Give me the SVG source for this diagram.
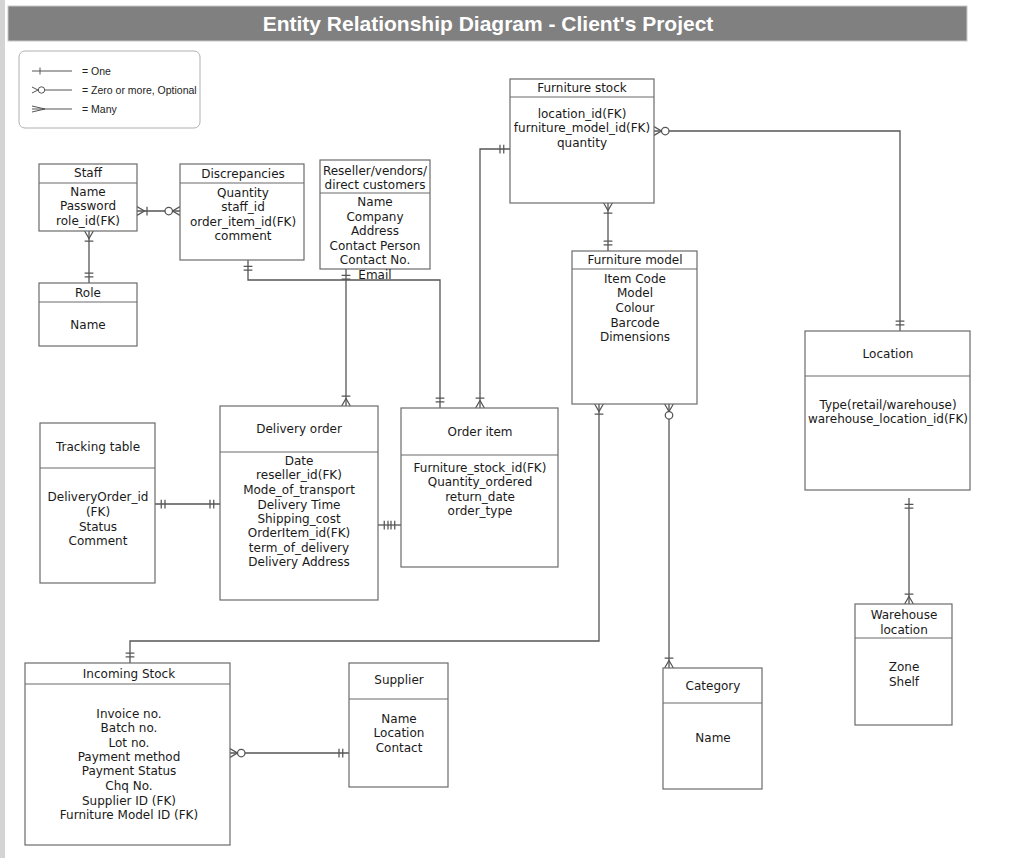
<svg xmlns="http://www.w3.org/2000/svg" width="1024" height="858" viewBox="0 0 1024 858">
<style>
.box{fill:#fff;stroke:#6b6b6b;stroke-width:1.2}
.sep{stroke:#6b6b6b;stroke-width:1.2}
.t{font-family:"DejaVu Sans",Verdana,sans-serif;font-size:12px;fill:#1a1a1a;text-anchor:middle}
.c{fill:none;stroke:#555;stroke-width:1.3}
.m{fill:none;stroke:#555;stroke-width:1}
.lg{font-family:"Liberation Sans",Arial,sans-serif;font-size:10.5px;fill:#222}
</style>
<defs>
<marker id="one" markerUnits="userSpaceOnUse" markerWidth="20" markerHeight="20" viewBox="-14 -7 16 14" refX="0" refY="0" orient="auto-start-reverse" overflow="visible">
<path class="m" d="M-5,-3.5V3.5M-8,-3.5V3.5"/>
</marker>
<marker id="many" markerUnits="userSpaceOnUse" markerWidth="20" markerHeight="20" viewBox="-14 -7 16 14" refX="0" refY="0" orient="auto-start-reverse" overflow="visible">
<path class="m" d="M0,-3.5L-6,0L0,3.5M-8,-3.5V3.5"/>
</marker>
<marker id="zmany" markerUnits="userSpaceOnUse" markerWidth="20" markerHeight="20" viewBox="-14 -7 16 14" refX="0" refY="0" orient="auto-start-reverse" overflow="visible">
<path class="m" d="M0,-3.5L-6,0L0,3.5"/>
<circle cx="-9" cy="0" r="3" fill="#fff" stroke="#555" stroke-width="1"/>
</marker>
</defs>
<rect x="0" y="0" width="1024" height="858" fill="#fff"/>
<rect x="0" y="0" width="5" height="858" fill="#d4d4d4"/>
<g id="title">
<rect x="8" y="6" width="959" height="35" fill="#808080" stroke="#c8c8c8" stroke-width="1"/>
<text x="488" y="31" font-family="Liberation Sans,Arial,sans-serif" font-size="21" font-weight="bold" fill="#fff" text-anchor="middle">Entity Relationship Diagram - Client's Project</text>
</g>
<g id="legend">
<rect x="19" y="51" width="181" height="77" rx="6" fill="#fff" stroke="#b0b0b0" stroke-width="1"/>
<path class="m" d="M32,71H72M40,67.5V74.5"/>
<path class="m" d="M32,87L38,90L32,93M45,90H72"/>
<circle cx="41.5" cy="90" r="3.2" fill="#fff" stroke="#555" stroke-width="1"/>
<path class="m" d="M32,106L45,109L32,112M32,109H72"/>
<text class="lg" x="82" y="75">= One</text>
<text class="lg" x="82" y="94">= Zero or more, Optional</text>
<text class="lg" x="82" y="113">= Many</text>
</g>
<g id="connectors">
<path class="c" d="M137,211H180" marker-start="url(#many)" marker-end="url(#zmany)"/>
<path class="c" d="M89,231V283" marker-start="url(#many)" marker-end="url(#one)"/>
<path class="c" d="M248,260V280H440V408" marker-start="url(#one)" marker-end="url(#one)"/>
<path class="c" d="M346,269V406" marker-start="url(#one)" marker-end="url(#many)"/>
<path class="c" d="M510,149H480V408" marker-start="url(#one)" marker-end="url(#many)"/>
<path class="c" d="M654,131H900V331" marker-start="url(#zmany)" marker-end="url(#one)"/>
<path class="c" d="M608,203V251" marker-start="url(#many)" marker-end="url(#one)"/>
<path class="c" d="M599,404V641H130V663" marker-start="url(#many)" marker-end="url(#one)"/>
<path class="c" d="M669,404V668" marker-start="url(#zmany)" marker-end="url(#many)"/>
<path class="c" d="M909,498V604" marker-start="url(#one)" marker-end="url(#many)"/>
<path class="c" d="M155,504H220" marker-start="url(#one)" marker-end="url(#one)"/>
<path class="c" d="M378,525H401" marker-start="url(#one)" marker-end="url(#one)"/>
<path class="c" d="M230,753H349" marker-start="url(#zmany)" marker-end="url(#one)"/>
</g>
<g id="staff">
<rect class="box" x="39" y="164" width="98" height="67"/>
<line class="sep" x1="39" y1="183" x2="137" y2="183"/>
<text class="t" x="88" y="177">Staff</text>
<text class="t" x="88" y="196">Name</text>
<text class="t" x="88" y="210">Password</text>
<text class="t" x="88" y="225">role_id(FK)</text>
</g>
<g id="discrepancies">
<rect class="box" x="180" y="164" width="124" height="96"/>
<line class="sep" x1="180" y1="183" x2="304" y2="183"/>
<text class="t" x="243" y="178">Discrepancies</text>
<text class="t" x="243" y="197">Quantity</text>
<text class="t" x="243" y="211">staff_id</text>
<text class="t" x="243" y="226">order_item_id(FK)</text>
<text class="t" x="243" y="240">comment</text>
</g>
<g id="reseller">
<rect class="box" x="320" y="160" width="110" height="109"/>
<line class="sep" x1="320" y1="193" x2="430" y2="193"/>
<text class="t" x="375" y="175">Reseller/vendors/</text>
<text class="t" x="375" y="189">direct customers</text>
<text class="t" x="375" y="206">Name</text>
<text class="t" x="375" y="221">Company</text>
<text class="t" x="375" y="235">Address</text>
<text class="t" x="375" y="250">Contact Person</text>
<text class="t" x="375" y="264">Contact No.</text>
<text class="t" x="375" y="279">Email</text>
</g>
<g id="role">
<rect class="box" x="39" y="283" width="98" height="63"/>
<line class="sep" x1="39" y1="302" x2="137" y2="302"/>
<text class="t" x="88" y="297">Role</text>
<text class="t" x="88" y="329">Name</text>
</g>
<g id="furniture-stock">
<rect class="box" x="510" y="79" width="144" height="124"/>
<line class="sep" x1="510" y1="97" x2="654" y2="97"/>
<text class="t" x="582" y="92">Furniture stock</text>
<text class="t" x="582" y="118">location_id(FK)</text>
<text class="t" x="582" y="132">furniture_model_id(FK)</text>
<text class="t" x="582" y="147">quantity</text>
</g>
<g id="furniture-model">
<rect class="box" x="572" y="251" width="125" height="153"/>
<line class="sep" x1="572" y1="269" x2="697" y2="269"/>
<text class="t" x="635" y="264">Furniture model</text>
<text class="t" x="635" y="283">Item Code</text>
<text class="t" x="635" y="297">Model</text>
<text class="t" x="635" y="312">Colour</text>
<text class="t" x="635" y="327">Barcode</text>
<text class="t" x="635" y="341">Dimensions</text>
</g>
<g id="location">
<rect class="box" x="805" y="331" width="165" height="159"/>
<line class="sep" x1="805" y1="376" x2="970" y2="376"/>
<text class="t" x="888" y="358">Location</text>
<text class="t" x="888" y="409">Type(retail/warehouse)</text>
<text class="t" x="888" y="423">warehouse_location_id(FK)</text>
</g>
<g id="tracking-table">
<rect class="box" x="40" y="423" width="115" height="160"/>
<line class="sep" x1="40" y1="468" x2="155" y2="468"/>
<text class="t" x="98" y="451">Tracking table</text>
<text class="t" x="98" y="501">DeliveryOrder_id</text>
<text class="t" x="98" y="516">(FK)</text>
<text class="t" x="98" y="531">Status</text>
<text class="t" x="98" y="545">Comment</text>
</g>
<g id="delivery-order">
<rect class="box" x="220" y="406" width="158" height="194"/>
<line class="sep" x1="220" y1="452" x2="378" y2="452"/>
<text class="t" x="299" y="433">Delivery order</text>
<text class="t" x="299" y="465">Date</text>
<text class="t" x="299" y="479">reseller_id(FK)</text>
<text class="t" x="299" y="494">Mode_of_transport</text>
<text class="t" x="299" y="509">Delivery Time</text>
<text class="t" x="299" y="523">Shipping_cost</text>
<text class="t" x="299" y="537">OrderItem_id(FK)</text>
<text class="t" x="299" y="552">term_of_delivery</text>
<text class="t" x="299" y="566">Delivery Address</text>
</g>
<g id="order-item">
<rect class="box" x="401" y="408" width="157" height="159"/>
<line class="sep" x1="401" y1="455" x2="558" y2="455"/>
<text class="t" x="480" y="436">Order item</text>
<text class="t" x="480" y="472">Furniture_stock_id(FK)</text>
<text class="t" x="480" y="486">Quantity_ordered</text>
<text class="t" x="480" y="501">return_date</text>
<text class="t" x="480" y="515">order_type</text>
</g>
<g id="warehouse-location">
<rect class="box" x="855" y="604" width="97" height="121"/>
<line class="sep" x1="855" y1="638" x2="952" y2="638"/>
<text class="t" x="904" y="619">Warehouse</text>
<text class="t" x="904" y="634">location</text>
<text class="t" x="904" y="671">Zone</text>
<text class="t" x="904" y="686">Shelf</text>
</g>
<g id="incoming-stock">
<rect class="box" x="25" y="663" width="205" height="182"/>
<line class="sep" x1="25" y1="684" x2="230" y2="684"/>
<text class="t" x="129" y="678">Incoming Stock</text>
<text class="t" x="129" y="718">Invoice no.</text>
<text class="t" x="129" y="732">Batch no.</text>
<text class="t" x="129" y="747">Lot no.</text>
<text class="t" x="129" y="761">Payment method</text>
<text class="t" x="129" y="775">Payment Status</text>
<text class="t" x="129" y="790">Chq No.</text>
<text class="t" x="129" y="805">Supplier ID (FK)</text>
<text class="t" x="129" y="819">Furniture Model ID (FK)</text>
</g>
<g id="supplier">
<rect class="box" x="349" y="663" width="99" height="124"/>
<line class="sep" x1="349" y1="699" x2="448" y2="699"/>
<text class="t" x="399" y="684">Supplier</text>
<text class="t" x="399" y="723">Name</text>
<text class="t" x="399" y="737">Location</text>
<text class="t" x="399" y="752">Contact</text>
</g>
<g id="category">
<rect class="box" x="663" y="668" width="99" height="121"/>
<line class="sep" x1="663" y1="703" x2="762" y2="703"/>
<text class="t" x="713" y="690">Category</text>
<text class="t" x="713" y="742">Name</text>
</g>
</svg>
